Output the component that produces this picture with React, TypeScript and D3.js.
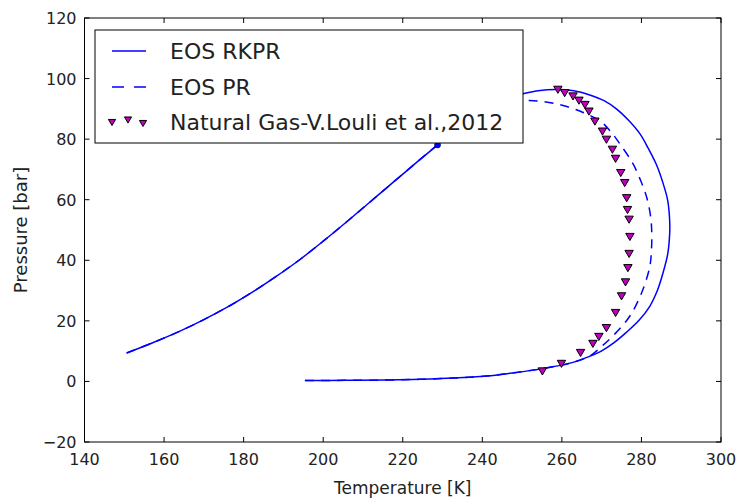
import React from "react";
import * as d3 from "d3";

const W = 738;
const H = 499;
const plot = { left: 84.5, right: 721, top: 18, bottom: 442 };

const xTicks = [140, 160, 180, 200, 220, 240, 260, 280, 300];
const yTicks = [-20, 0, 20, 40, 60, 80, 100, 120];

// EOS RKPR (solid)
const rkprT = [150.6, 157, 164, 170, 176, 182, 188, 194, 200, 206, 212, 218, 224, 228.75, 236.5, 243.5, 250.2, 254, 258.6, 263, 267, 270.6, 273.7, 276.7, 279.6, 281.7, 283.7, 285.3, 286.6, 287.1, 287.1, 286.6, 285.4, 284, 282.1, 279.4, 276.2, 273.2, 270, 266.8, 262.8, 258, 253.6, 247, 241.1, 232.8, 224.3, 215.5, 205.5, 195.4];
const rkprP = [9.4, 12.7, 16.6, 20.4, 24.6, 29.3, 34.5, 40.1, 46.3, 52.8, 59.5, 66.2, 72.9, 78.1, 87.5, 92.5, 95, 96, 96.4, 96, 94.6, 92.7, 90, 86.3, 81.8, 77, 71.8, 66, 59.8, 53, 48.8, 42, 35.7, 30, 24.8, 20.2, 16.2, 12.9, 10.1, 8.2, 6.3, 4.9, 3.9, 2.7, 1.8, 1.1, 0.7, 0.45, 0.35, 0.3];

// EOS PR (dashed)
const prT = [150.6, 157, 164, 170, 176, 182, 188, 194, 200, 206, 212, 218, 224, 228.75, 236.5, 243.5, 250, 255.3, 260.3, 265.2, 269.6, 272.2, 274.6, 277.9, 279.9, 281.3, 282.3, 282.6, 282.5, 282.1, 280, 277.1, 273.7, 270.2, 267, 262.8, 258, 253.6, 247, 241.1, 232.8, 224.3, 215.5, 205.5, 195.4];
const prP = [9.4, 12.7, 16.6, 20.4, 24.6, 29.3, 34.5, 40.1, 46.3, 52.8, 59.5, 66.2, 72.9, 78.1, 86, 90.5, 92.6, 92.4, 91.1, 88.9, 86, 82.6, 78.4, 71.8, 66, 60.9, 54.5, 48.8, 43, 37.9, 29.1, 21.6, 16.2, 11.8, 8.4, 6.3, 4.9, 3.9, 2.7, 1.8, 1.1, 0.7, 0.45, 0.35, 0.3];

// Natural Gas - V.Louli et al., 2012 (experimental)
const expT = [255.1, 259.9, 264.7, 267.8, 269.3, 271.2, 273.5, 275.0, 276.0, 276.6, 276.9, 277.1, 276.9, 276.5, 276.3, 275.8, 274.8, 273.5, 272.7, 271.2, 270.2, 268.3, 266.8, 265.8, 264.3, 262.8, 260.7, 259.0];
const expP = [3.3, 5.8, 9.4, 12.4, 14.7, 17.6, 22.6, 28.1, 32.7, 37.4, 42.1, 47.7, 53.4, 56.6, 60.5, 65.5, 68.8, 73.5, 76.5, 79.8, 82.5, 85.8, 89.1, 91.3, 92.7, 94.1, 95.2, 96.3];

// critical point marker
const critT = [228.75];
const critP = [78.1];

const seriesNames = ["EOS RKPR", "EOS PR", "Natural Gas-V.Louli et al.,2012"];

const FONT = "'DejaVu Sans', sans-serif";

export default function App() {
  const x = d3.scaleLinear().domain([140, 300]).range([plot.left, plot.right]);
  const y = d3.scaleLinear().domain([-20, 120]).range([plot.bottom, plot.top]);

  const line = d3
    .line<[number, number]>()
    .x((d) => x(d[0]))
    .y((d) => y(d[1]))
    .curve(d3.curveCatmullRom.alpha(0.5));

  const rkpr = rkprT.map((t, i) => [t, rkprP[i]] as [number, number]);
  const pr = prT.map((t, i) => [t, prP[i]] as [number, number]);
  const exp = expT.map((t, i) => [t, expP[i]] as [number, number]);

  const x0 = x(140), x1 = x(300), y0 = y(-20), y1 = y(120);
  const tri = (cx: number, cy: number, s: number) =>
    `M${cx - s},${cy - s * 0.85} L${cx + s},${cy - s * 0.85} L${cx},${cy + s * 0.85} Z`;

  const blue = "#0000ff";
  const mag = "#bf00bf";
  const dash = "9,7";

  // legend layout
  const lgX = 95, lgY = 30, lgW = 428, lgH = 113;
  const rowY = [51, 87, 122];

  return (
    <svg width={W} height={H} style={{ position: "absolute", left: 0, top: 0, background: "#fff" }} fontFamily={FONT}>
      <rect x={0} y={0} width={W} height={H} fill="#fff" />
      <defs>
        <clipPath id="plotclip">
          <rect x={x0} y={y1} width={x1 - x0} height={y0 - y1} />
        </clipPath>
      </defs>
      <g clipPath="url(#plotclip)">
        <path d={line(rkpr) || ""} fill="none" stroke={blue} strokeWidth={1.5} />
        <path d={line(pr) || ""} fill="none" stroke={blue} strokeWidth={1.5} strokeDasharray={dash} />
        {critT.map((t, i) => (
          <circle key={i} cx={x(t)} cy={y(critP[i])} r={3} fill={blue} stroke="#000" strokeWidth={0.6} />
        ))}
        {exp.map((d, i) => (
          <path key={i} d={tri(x(d[0]), y(d[1]), 4.2)} fill={mag} stroke="#000" strokeWidth={1} />
        ))}
      </g>
      {/* frame */}
      <rect x={x0} y={y1} width={x1 - x0} height={y0 - y1} fill="none" stroke="#000" strokeWidth={1} />
      {/* ticks */}
      {xTicks.map((t) => (
        <g key={"x" + t}>
          <line x1={x(t)} x2={x(t)} y1={y0} y2={y0 - 5} stroke="#000" />
          <line x1={x(t)} x2={x(t)} y1={y1} y2={y1 + 5} stroke="#000" />
          <text x={x(t)} y={y0 + 23} textAnchor="middle" fontSize={16} fill="#222">
            {t}
          </text>
        </g>
      ))}
      {yTicks.map((t) => (
        <g key={"y" + t}>
          <line x1={x0} x2={x0 + 5} y1={y(t)} y2={y(t)} stroke="#000" />
          <line x1={x1} x2={x1 - 5} y1={y(t)} y2={y(t)} stroke="#000" />
          <text x={x0 - 8} y={y(t) + 6} textAnchor="end" fontSize={16} fill="#222">
            {t < 0 ? "\u2212" + Math.abs(t) : t}
          </text>
        </g>
      ))}
      <text x={(x0 + x1) / 2} y={494} textAnchor="middle" fontSize={17} fill="#222">
        Temperature [K]
      </text>
      <text transform={`translate(27,${(y0 + y1) / 2}) rotate(-90)`} textAnchor="middle" fontSize={18} fill="#222">
        Pressure [bar]
      </text>
      {/* legend */}
      <rect x={lgX} y={lgY} width={lgW} height={lgH} fill="#fff" stroke="#000" strokeWidth={1} />
      <line x1={112} x2={146} y1={rowY[0]} y2={rowY[0]} stroke={blue} strokeWidth={1.5} />
      <line x1={112} x2={146} y1={rowY[1]} y2={rowY[1]} stroke={blue} strokeWidth={1.5} strokeDasharray="12,10" />
      {[112, 128, 143].map((cx, i) => (
        <path key={i} d={tri(cx, [122.5, 120, 123.5][i], 3.6)} fill={mag} stroke="#000" strokeWidth={1} />
      ))}
      {seriesNames.map((n, i) => (
        <text key={n} x={170} y={rowY[i] + 8} fontSize={22} fill="#222">
          {n}
        </text>
      ))}
    </svg>
  );
}
